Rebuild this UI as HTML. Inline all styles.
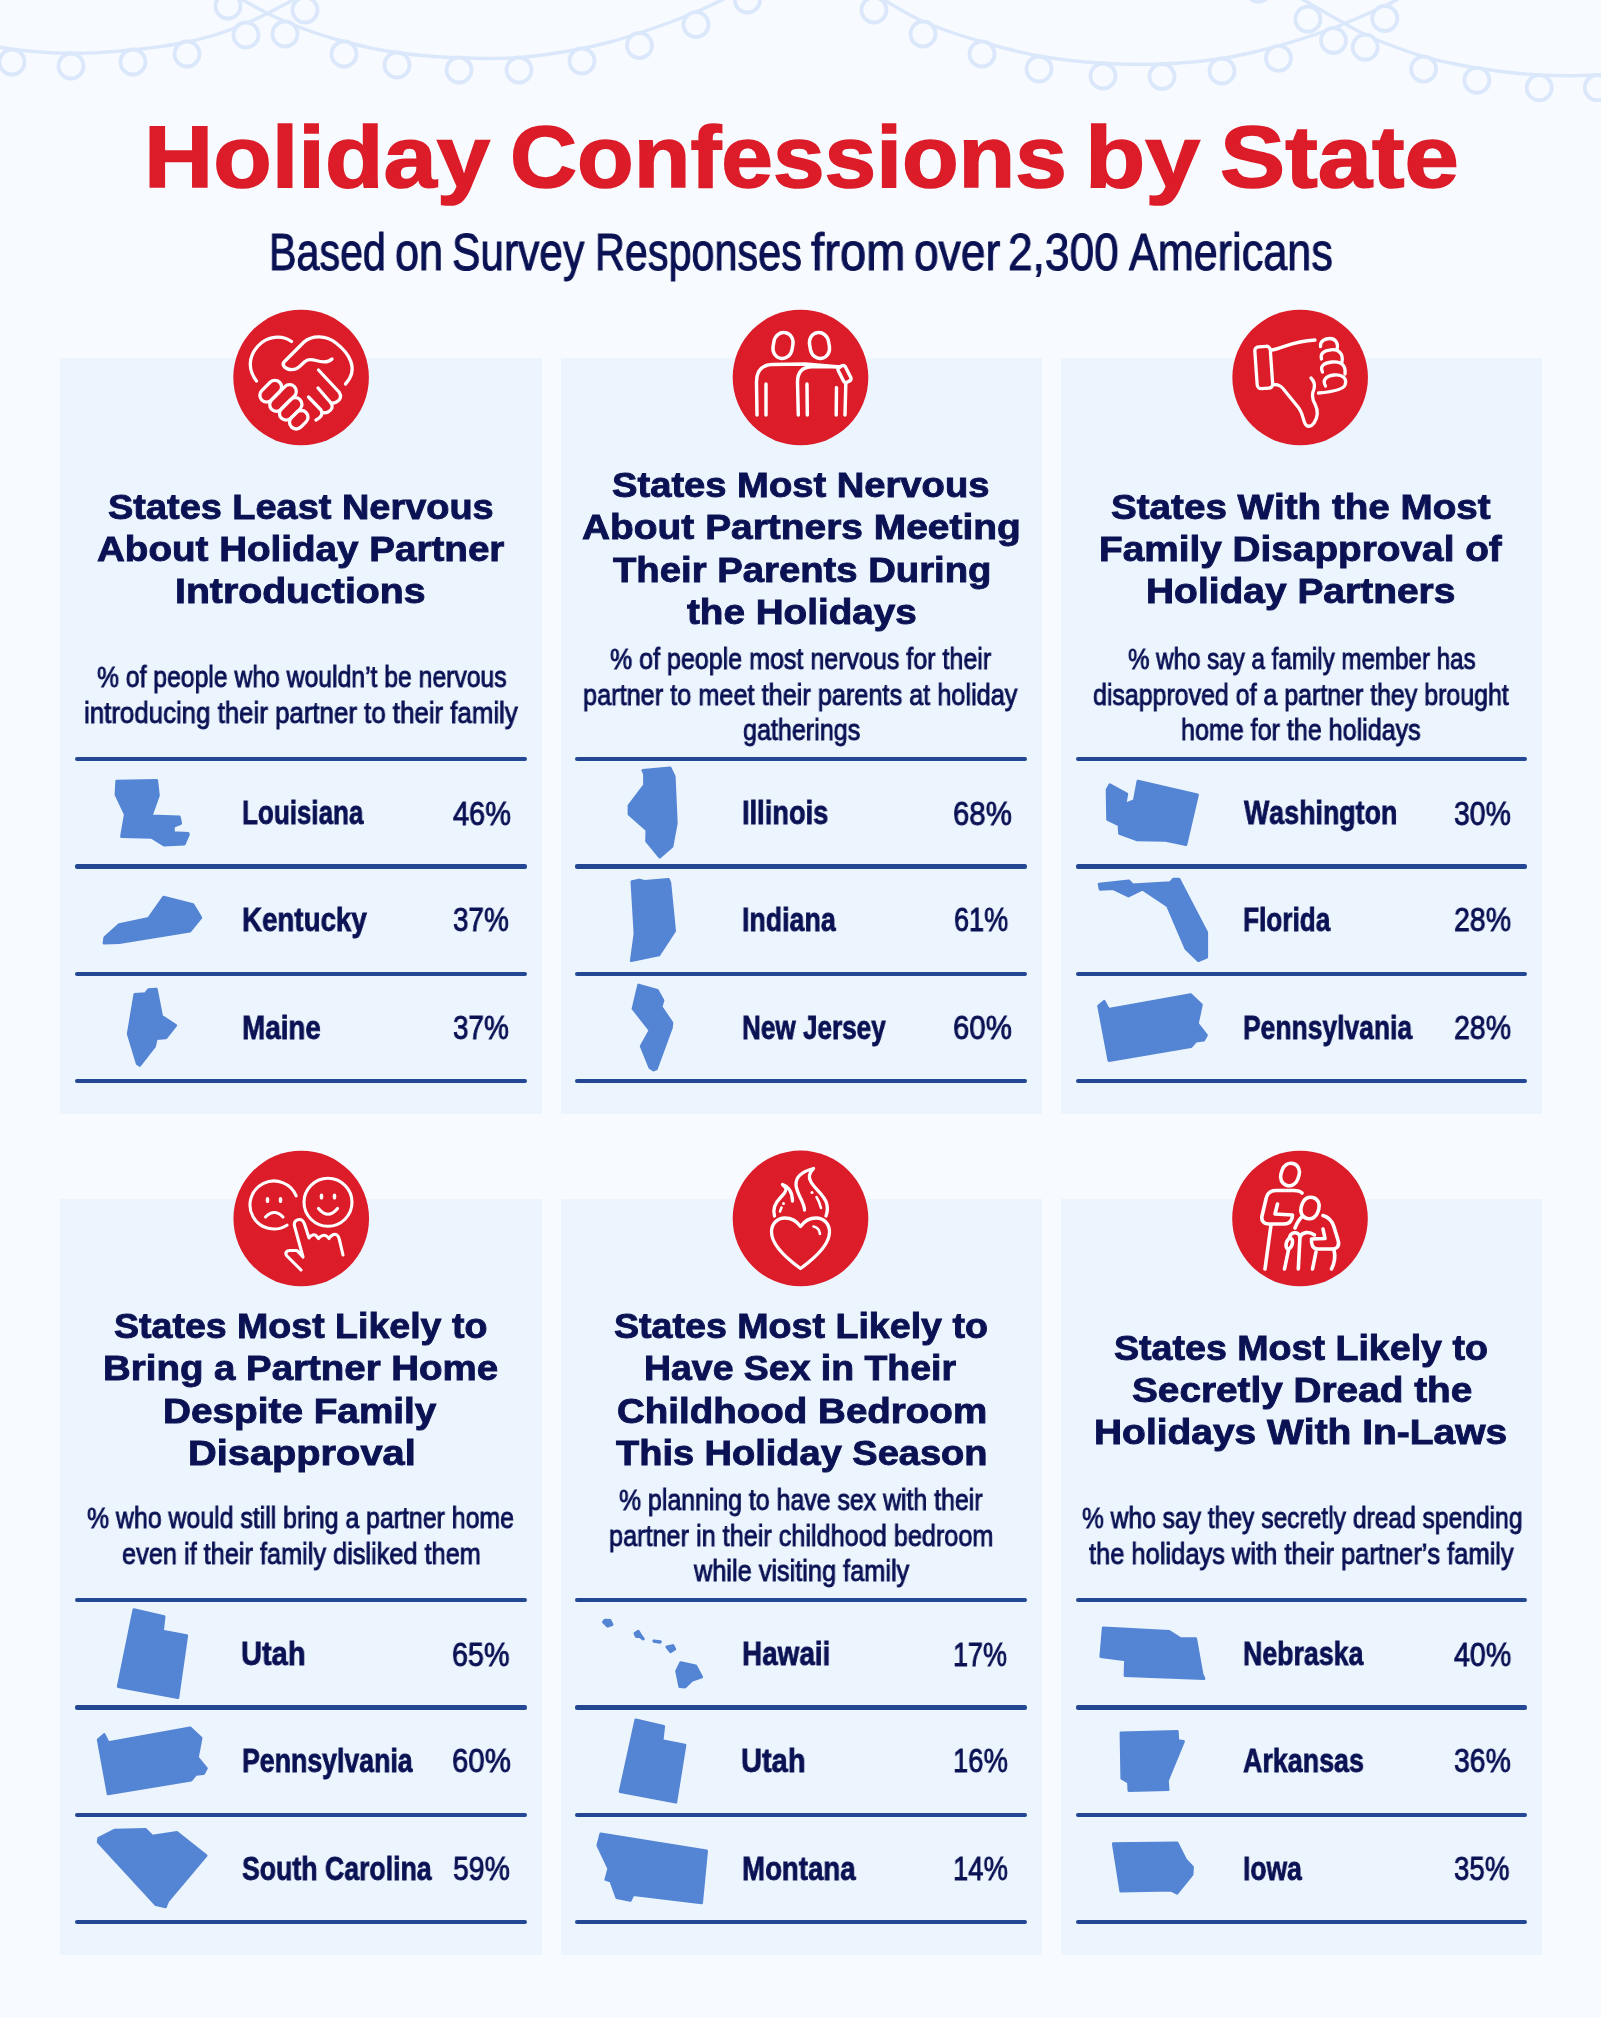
<!DOCTYPE html>
<html lang="en"><head><meta charset="utf-8"><title>Holiday Confessions by State</title>
<style>
html,body{margin:0;padding:0}
body{width:1601px;height:2018px;position:relative;overflow:hidden;background:#f7fafe;font-family:"Liberation Sans",sans-serif;font-kerning:none;-webkit-font-smoothing:antialiased}
.t{position:absolute;white-space:nowrap;transform-origin:0 0;line-height:1;margin:0;padding:0;will-change:transform}
.b{font-weight:700}.r{font-weight:400}
.card{position:absolute;background:#ecf4fe}
.ln{position:absolute;height:4.1px;border-radius:2.05px;background:#234792}
svg{position:absolute;overflow:visible}
.title{-webkit-text-stroke:1.6px #dc1c28}
.h{-webkit-text-stroke:0.9px #0a1254}
.n{-webkit-text-stroke:0.8px #0a1254}
.d,.p{-webkit-text-stroke:0.9px #0a1254}
.sub{-webkit-text-stroke:1.0px #0a1254}
</style></head><body>
<svg width="1601" height="110" viewBox="0 0 1601 110" style="left:0;top:0"><g fill="none" stroke="#dbe8fb" stroke-width="3.4" stroke-linecap="round"><path d="M-10.0,45.5 C-6.3,46.1 3.7,48.1 12.0,49.2 C20.3,50.3 30.2,51.3 40.0,52.0 C49.8,52.7 61.0,53.2 71.0,53.3 C81.0,53.4 89.7,53.2 100.0,52.6 C110.3,52.0 123.0,50.8 133.0,49.8 C143.0,48.8 151.0,47.9 160.0,46.6 C169.0,45.3 177.3,44.1 187.0,42.0 C196.7,39.9 208.2,37.1 218.0,34.0 C227.8,30.9 237.0,27.3 246.0,23.5 C255.0,19.7 264.2,14.9 272.0,11.0 C279.8,7.1 287.5,3.0 293.0,0.0 C298.5,-3.0 303.0,-5.8 305.0,-7.0"/><path d="M232.0,-7.0 C233.8,-5.8 237.8,-3.0 243.0,0.0 C248.2,3.0 256.0,7.4 263.0,11.0 C270.0,14.6 276.5,17.9 285.0,21.5 C293.5,25.1 304.2,29.2 314.0,32.5 C323.8,35.8 334.7,39.0 344.0,41.5 C353.3,44.0 361.2,46.0 370.0,47.8 C378.8,49.6 387.3,51.1 397.0,52.5 C406.7,53.9 417.7,55.1 428.0,56.0 C438.3,56.9 448.7,57.4 459.0,57.8 C469.3,58.2 480.0,58.5 490.0,58.5 C500.0,58.5 509.0,58.4 519.0,57.6 C529.0,56.9 539.5,55.5 550.0,54.0 C560.5,52.5 572.0,50.5 582.0,48.5 C592.0,46.5 600.4,44.6 610.0,42.0 C619.6,39.4 629.8,36.2 639.5,33.0 C649.2,29.8 658.6,26.5 668.0,23.0 C677.4,19.5 687.0,15.8 696.0,12.0 C705.0,8.2 715.5,3.2 722.0,0.0 C728.5,-3.2 732.8,-5.8 735.0,-7.0"/><path d="M868.0,-7.0 C870.7,-5.8 878.3,-2.9 884.0,0.0 C889.7,2.9 895.5,6.9 902.0,10.5 C908.5,14.1 914.7,17.8 923.0,21.5 C931.3,25.2 942.2,29.1 952.0,32.5 C961.8,35.9 972.3,39.0 982.0,41.8 C991.7,44.6 1000.5,47.1 1010.0,49.5 C1019.5,51.9 1029.0,54.2 1039.0,56.0 C1049.0,57.8 1059.3,59.3 1070.0,60.5 C1080.7,61.7 1092.7,62.7 1103.0,63.3 C1113.3,63.9 1122.2,64.2 1132.0,64.3 C1141.8,64.4 1152.0,64.4 1162.0,64.0 C1172.0,63.6 1182.0,62.9 1192.0,62.0 C1202.0,61.1 1212.3,60.0 1222.0,58.5 C1231.7,57.0 1240.6,55.1 1250.0,53.0 C1259.4,50.9 1269.2,48.4 1278.5,45.8 C1287.8,43.2 1296.8,40.5 1306.0,37.5 C1315.2,34.5 1324.5,31.4 1333.5,28.0 C1342.5,24.6 1351.5,20.7 1360.0,17.0 C1368.5,13.3 1378.8,8.8 1384.8,6.0 C1390.8,3.2 1392.1,2.2 1396.0,0.0 C1399.9,-2.2 1406.0,-5.8 1408.0,-7.0"/><path d="M1292.0,-7.0 C1294.0,-5.8 1299.1,-2.8 1303.8,0.0 C1308.5,2.8 1313.8,5.9 1320.0,9.5 C1326.2,13.1 1333.5,17.3 1341.0,21.5 C1348.5,25.7 1356.4,30.5 1365.2,34.7 C1374.0,38.9 1384.3,42.9 1394.0,46.5 C1403.7,50.1 1414.3,53.9 1423.6,56.6 C1432.9,59.4 1441.1,61.1 1450.0,63.0 C1458.9,64.9 1467.2,66.5 1476.9,68.0 C1486.6,69.5 1497.6,71.1 1508.0,72.3 C1518.4,73.5 1529.2,74.4 1539.2,75.0 C1549.2,75.6 1558.3,75.8 1568.0,75.8 C1577.7,75.8 1590.0,75.3 1597.3,75.0 C1604.6,74.7 1609.5,74.2 1612.0,74.0"/></g><g fill="#f7fafe" stroke="#dbe8fb" stroke-width="3.8"><circle cx="12" cy="62" r="12.5"/><circle cx="71" cy="66" r="12.5"/><circle cx="133" cy="62" r="12.5"/><circle cx="187" cy="54" r="12.5"/><circle cx="246" cy="35" r="12.5"/><circle cx="228" cy="6" r="12.5"/><circle cx="305" cy="10" r="12.5"/><circle cx="285" cy="34" r="12.5"/><circle cx="344" cy="54" r="12.5"/><circle cx="397" cy="65" r="12.5"/><circle cx="459" cy="70" r="12.5"/><circle cx="519" cy="70" r="12.5"/><circle cx="582" cy="61" r="12.5"/><circle cx="639.5" cy="45.5" r="12.5"/><circle cx="696" cy="24.6" r="12.5"/><circle cx="747.4" cy="0" r="12.5"/><circle cx="874" cy="10" r="12.5"/><circle cx="923" cy="34" r="12.5"/><circle cx="982" cy="54" r="12.5"/><circle cx="1039" cy="69" r="12.5"/><circle cx="1103" cy="76" r="12.5"/><circle cx="1162" cy="76.5" r="12.5"/><circle cx="1222" cy="71" r="12.5"/><circle cx="1278.5" cy="58.3" r="12.5"/><circle cx="1333.5" cy="40.5" r="12.5"/><circle cx="1384.8" cy="18.5" r="12.5"/><circle cx="1307.9" cy="19.2" r="12.5"/><circle cx="1365.2" cy="47.2" r="12.5"/><circle cx="1423.6" cy="69.1" r="12.5"/><circle cx="1476.9" cy="80.3" r="12.5"/><circle cx="1539.2" cy="87.7" r="12.5"/><circle cx="1597.3" cy="87.7" r="12.5"/><circle cx="1258.3" cy="-10.8" r="12.5"/></g></svg>
<div class="card" style="left:60.4px;top:357.7px;width:481.2px;height:756px"></div>
<div class="card" style="left:560.6px;top:357.7px;width:481.1px;height:756px"></div>
<div class="card" style="left:1061px;top:357.7px;width:480.8px;height:756px"></div>
<div class="card" style="left:60.4px;top:1198.6px;width:481.2px;height:756px"></div>
<div class="card" style="left:560.6px;top:1198.6px;width:481.1px;height:756px"></div>
<div class="card" style="left:1061px;top:1198.6px;width:480.8px;height:756px"></div>
<div class="ln" style="left:75.0px;top:757.05px;width:452.0px"></div>
<div class="ln" style="left:75.0px;top:864.45px;width:452.0px"></div>
<div class="ln" style="left:75.0px;top:971.85px;width:452.0px"></div>
<div class="ln" style="left:75.0px;top:1079.25px;width:452.0px"></div>
<div class="ln" style="left:575.2px;top:757.05px;width:451.9px"></div>
<div class="ln" style="left:575.2px;top:864.45px;width:451.9px"></div>
<div class="ln" style="left:575.2px;top:971.85px;width:451.9px"></div>
<div class="ln" style="left:575.2px;top:1079.25px;width:451.9px"></div>
<div class="ln" style="left:1075.6px;top:757.05px;width:451.6px"></div>
<div class="ln" style="left:1075.6px;top:864.45px;width:451.6px"></div>
<div class="ln" style="left:1075.6px;top:971.85px;width:451.6px"></div>
<div class="ln" style="left:1075.6px;top:1079.25px;width:451.6px"></div>
<div class="ln" style="left:75.0px;top:1598.05px;width:452.0px"></div>
<div class="ln" style="left:75.0px;top:1705.45px;width:452.0px"></div>
<div class="ln" style="left:75.0px;top:1812.85px;width:452.0px"></div>
<div class="ln" style="left:75.0px;top:1920.25px;width:452.0px"></div>
<div class="ln" style="left:575.2px;top:1598.05px;width:451.9px"></div>
<div class="ln" style="left:575.2px;top:1705.45px;width:451.9px"></div>
<div class="ln" style="left:575.2px;top:1812.85px;width:451.9px"></div>
<div class="ln" style="left:575.2px;top:1920.25px;width:451.9px"></div>
<div class="ln" style="left:1075.6px;top:1598.05px;width:451.6px"></div>
<div class="ln" style="left:1075.6px;top:1705.45px;width:451.6px"></div>
<div class="ln" style="left:1075.6px;top:1812.85px;width:451.6px"></div>
<div class="ln" style="left:1075.6px;top:1920.25px;width:451.6px"></div>
<svg width="1601" height="2018" viewBox="0 0 1601 2018" style="left:0;top:0"><g fill="#5485d4" stroke="#5485d4" stroke-width="2.8" stroke-linejoin="round"><polygon points="116.7,781.2 156.7,780.4 158.4,795.5 151.1,816.0 179.3,816.9 180.7,823.4 173.4,826.5 173.4,832.7 188.1,833.5 188.4,834.4 184.2,844.2 164.1,845.0 151.5,837.4 121.5,836.6 125.3,814.5 116.0,794.6"/><polygon points="163.5,897.2 193.0,904.7 200.9,917.7 189.9,931.2 119.2,942.5 104.0,943.2 104.8,937.5 119.2,924.6 148.7,918.3"/><polygon points="134.8,994.4 145.4,993.7 148.6,989.7 156.3,989.1 161.6,1016.1 175.7,1025.4 165.9,1037.8 156.3,1038.6 154.5,1046.4 139.7,1065.4 137.2,1063.6 128.2,1033.9"/><polygon points="642.8,770.4 670.1,767.8 674.2,776.3 676.3,823.3 672.0,846.5 659.7,857.1 646.6,841.2 646.9,830.0 629.0,814.1 629.0,805.7 644.5,785.1 644.5,774.0"/><polygon points="631.9,881.6 639.2,880.0 644.6,881.4 668.4,879.3 669.8,882.5 674.6,930.9 658.9,954.9 631.3,960.7 635.0,933.7"/><polygon points="638.6,985.0 657.3,990.3 663.0,1000.4 661.1,1006.8 671.9,1022.8 671.4,1027.7 656.3,1068.9 653.6,1070.0 649.8,1067.5 641.2,1046.3 650.1,1030.3 633.0,1008.7"/><polygon points="1109.9,784.6 1126.8,794.0 1125.0,804.2 1134.3,800.6 1137.9,781.2 1197.5,794.9 1185.9,844.7 1165.8,840.3 1136.6,839.8 1119.5,833.5 1119.1,824.9 1107.6,819.4 1107.1,789.6"/><polygon points="1099.1,884.1 1128.7,880.8 1132.5,884.8 1170.2,882.7 1173.4,879.2 1179.0,879.2 1206.7,932.4 1206.7,957.3 1198.4,960.8 1185.9,948.7 1167.5,905.8 1142.4,889.2 1128.4,896.0 1112.8,888.6 1100.1,889.3"/><polygon points="1098.6,1006.0 1104.2,1001.3 1108.5,1009.5 1190.6,994.6 1201.4,1004.7 1197.4,1023.5 1206.4,1035.2 1203.6,1040.2 1195.9,1041.0 1191.1,1046.5 1108.9,1060.5"/><polygon points="133.9,1609.6 164.1,1616.5 162.5,1631.2 186.7,1635.7 177.9,1697.5 118.2,1686.6"/><polygon points="98.2,1739.7 104.2,1734.6 108.2,1742.7 190.1,1727.9 201.1,1738.1 197.4,1757.4 206.4,1768.3 203.6,1773.6 195.9,1774.4 191.1,1780.0 108.1,1793.9"/><polygon points="98.7,1838.3 114.5,1830.2 145.3,1829.3 152.4,1836.2 177.1,1832.5 206.1,1855.5 167.6,1901.4 165.5,1906.8 156.0,1904.7 98.2,1842.1"/><polygon points="603.4,1621.9 605.2,1620.1 610.0,1620.4 612.1,1624.6 607.7,1626.2"/><polygon points="634.9,1633.5 638.3,1631.3 641.5,1636.5 643.4,1638.8 643.2,1639.0 639.9,1636.7 636.4,1636.7"/><polygon points="653.8,1640.9 660.4,1641.6 660.1,1642.3 653.9,1641.3"/><polygon points="666.8,1646.9 672.9,1645.5 674.8,1649.1 670.5,1651.7"/><polygon points="680.7,1662.7 695.7,1665.9 701.7,1676.9 691.8,1680.5 685.0,1687.1 679.8,1686.7 676.6,1671.2"/><polygon points="635.8,1719.8 663.7,1726.4 662.1,1740.6 685.0,1745.1 675.8,1802.2 620.1,1791.6"/><polygon points="600.8,1833.9 706.6,1851.0 701.6,1902.9 633.1,1894.7 630.3,1900.5 616.8,1897.7 610.9,1881.2 605.8,1879.5 608.8,1868.7 597.8,1845.4"/><polygon points="1103.2,1628.0 1169.2,1631.5 1179.8,1638.3 1195.7,1638.7 1202.0,1674.1 1204.0,1678.6 1125.0,1675.6 1125.5,1659.9 1100.8,1656.7"/><polygon points="1121.0,1733.0 1177.3,1731.4 1177.8,1740.7 1183.5,1741.5 1167.4,1780.6 1168.1,1789.7 1128.9,1790.5 1128.5,1782.4 1121.8,1778.4"/><polygon points="1113.3,1843.7 1177.1,1842.9 1185.8,1860.1 1192.5,1866.9 1192.0,1874.6 1177.1,1893.2 1170.7,1890.1 1120.8,1891.2"/></g></svg>
<svg width="160" height="160" viewBox="0 0 160 160" style="left:220px;top:300px"><circle cx="81.1" cy="77.5" r="67.8" fill="#dc1c28"/><g fill="none" stroke="#fff" stroke-width="3.3" stroke-linecap="round" stroke-linejoin="round">
<path d="M71.5,41.5 C62,34.5 47,36 38,46 C28,57 28,70 36.5,81"/>
<path d="M112,59 C108,63 101,62 96,60.5 C91,59 88,59 85,61.5 L79,67 C75,70.5 68,70.5 64.5,67 C62.5,65 63,63 64.5,61.5 L84,42 C92,35 106,35 116,43 C129,53 139.5,69 125.5,84"/>
<path d="M98.5,70 L119,92 C122,96 120.5,100 116.5,102 C114.5,103 112.5,103.3 111,103"/>
<path d="M98,88 L111,103 C113.5,106.5 112,110 108,112 C106,113 103.5,112.8 102,112"/>
<path d="M88.5,97 L101,110 C103,113.5 102,117 96,120"/>
<rect x="38.10" y="84.50" width="25.20" height="13.40" rx="6.70" transform="rotate(-45 50.7 91.2)"/><rect x="46.95" y="91.30" width="32.10" height="13.40" rx="6.70" transform="rotate(-45 63 98)"/><rect x="57.55" y="102.20" width="26.30" height="13.40" rx="6.70" transform="rotate(-45 70.7 108.9)"/><rect x="68.45" y="113.05" width="20.60" height="13.40" rx="6.70" transform="rotate(-45 78.75 119.75)"/></g></svg>
<svg width="160" height="160" viewBox="0 0 160 160" style="left:720px;top:300px"><circle cx="80.5" cy="77.5" r="67.8" fill="#dc1c28"/><g fill="none" stroke="#fff" stroke-width="3.45" stroke-linecap="round" stroke-linejoin="round">
<rect x="53.4" y="32.5" width="19.2" height="26" rx="9.3" ry="10.5" transform="rotate(10 63 45.5)"/>
<rect x="89.9" y="32.5" width="19.2" height="26" rx="9.3" ry="10.5" transform="rotate(-10 99.5 45.5)"/>
<path d="M37,115 L36.5,82 C36.5,71 42,65 52,64.5 L85,64 L120,67"/>
<path d="M78.3,115 L77.5,82 C77.5,72 82,67 92,66.7 L118,66.7"/>
<rect x="120.5" y="65.5" width="8" height="17" rx="2.5" transform="rotate(-27 124.5 74)"/>
<path d="M125.8,84 L125,115"/>
<path d="M46,84 L46,115"/><path d="M87,84 L87.3,115"/><path d="M116.5,87.6 L116.2,115"/>
</g></svg>
<svg width="160" height="160" viewBox="0 0 160 160" style="left:1220px;top:300px"><circle cx="80.15" cy="77.5" r="67.8" fill="#dc1c28"/><g fill="none" stroke="#fff" stroke-width="3.3" stroke-linecap="round" stroke-linejoin="round">
<rect x="36" y="46.5" width="15.5" height="42" rx="4" transform="rotate(-4 43.7 67.5)"/>
<path d="M52,50 C64,48 72,41 95,40"/>
<path d="M53.5,84.5 C60,84.5 62,87 65,91 L78,107 C83,113 83,120 85,123.5 C87,127.5 91,127 94,123 C98,117 98,110 95,104 C91,97 92,93 94,89 C95,85 94,81 91,78"/>
<path d="M100.5,46.5 C100,41 105,38.5 110,38.5 C116,38.5 118.5,44 117,49.5"/>
<path d="M101.5,59 C100,53 104,50.5 111,49.8 C119,49 123.5,54 122,62"/>
<path d="M102.5,72 C99.5,66 104,63 112,62 C121,61 126,65 125,74"/>
<path d="M105.5,86 C102,80 106,76 114,75 C122,74 127.5,78 125,85 C123,90 110,92 98.5,93"/>
</g></svg>
<svg width="160" height="160" viewBox="0 0 160 160" style="left:220px;top:1140px"><circle cx="81.25" cy="78.5" r="67.8" fill="#dc1c28"/><g fill="none" stroke="#fff" stroke-width="3.1" stroke-linecap="round" stroke-linejoin="round">
<path d="M76.19,55.85 A24,24 0 1 0 66.97,85.2"/>
<path d="M45.5,77 Q54.3,68 63,77"/>
<circle cx="108" cy="62.3" r="24"/>
<path d="M98.5,68.5 Q108,80 117.5,68.5"/>
<path d="M81,130 L67,116 C64.5,113 66.5,110.5 70,110.5 L77,110.5 L83,117 L74.5,86 C73.5,81 77,79.5 79.5,79.5 C82,79.5 83.5,81 84.5,84 L89,98 C91,94.5 95,94 96.5,96 L98.5,98.5 C101,95 105,94.5 107,96.5 L109,98.5 C111,94.5 115,93.5 117,95 C118.5,96 119,98 119.5,100 L123,115"/>
</g>
<g fill="#fff"><ellipse cx="47.5" cy="60" rx="1.8" ry="3.1"/><ellipse cx="60.5" cy="60" rx="1.8" ry="3.1"/><ellipse cx="101.5" cy="56.5" rx="1.8" ry="3.1"/><ellipse cx="114.5" cy="56.5" rx="1.8" ry="3.1"/></g></svg>
<svg width="160" height="160" viewBox="0 0 160 160" style="left:720px;top:1140px"><circle cx="80.5" cy="78.4" r="67.8" fill="#dc1c28"/><g fill="none" stroke="#fff" stroke-width="3.3" stroke-linecap="round" stroke-linejoin="round">
<path d="M80.5,86.5 C76,80 70,78 65,78 C57,78 51.5,84 51.5,92 C51.5,104 66,118 80.5,128.5 C95,118 109.5,104 109.5,92 C109.5,84 104,78 96,78 C91,78 85,80 80.5,86.5 Z"/>
<path d="M93.5,86.5 C97,87 99.5,90 100,94" stroke-width="2.6"/>
<path d="M54.5,76 C52,68 56,62 61,57 C65,53 67,50 65.5,47.5 L62.5,44.5 C68,46 72.5,52 72.5,61"/>
<path d="M84.5,70 C84.5,62 77,55 76,45 C75.5,36 84,31 93.5,28.5 C89,33 88.5,38 91,42 C95,49 104,55 106.5,63 C108,68 107.5,72 106,76"/>
<path d="M61.5,67.5 L60,71.5" stroke-width="2.6"/><path d="M96.5,57 C98.5,60 100,64 101,68" stroke-width="2.6"/>
</g><g fill="#fff"><circle cx="63.5" cy="63.5" r="1.5"/><circle cx="92" cy="52.5" r="1.5"/></g></svg>
<svg width="160" height="160" viewBox="0 0 160 160" style="left:1220px;top:1140px"><circle cx="80" cy="78.5" r="67.8" fill="#dc1c28"/><g fill="none" stroke="#fff" stroke-width="3.6" stroke-linecap="round" stroke-linejoin="round">
<rect x="61.2" y="23.2" width="17.6" height="22.6" rx="8.3" ry="9.3" transform="rotate(17 70 34.5)"/>
<path d="M82,53 C80,51 77,50.5 74,50.5 L56,50.5 C50,50.5 47,54 46,59 L42,76 C41,81 44,84 49,84 L64,84 C70,84 72.5,80 72.5,75 L55,74 L57.5,64"/>
<path d="M51,85 L45,129"/>
<rect x="81.3" y="57.2" width="17.4" height="21.6" rx="8.2" ry="9.2" transform="rotate(17 90 68)"/>
<path d="M103,75.5 C108,77 112,80 114,87 L118,100 C120,106 117,109 112,109 L98,109 C93,109 91,105 91.5,99 L105,98.5 L103,89"/>
<path d="M83,76 C79,79 77,83 75,88"/>
<path d="M69.5,98 C70.5,91.5 79,91 80,97 L78.3,129"/>
<path d="M80,97 C82,92 89,91 94.5,95"/>
<ellipse cx="69.3" cy="103.5" rx="3" ry="5.5" transform="rotate(15 69.3 103.5)"/>
<path d="M68.5,110 L64.5,129"/>
<path d="M96,112 L92.5,129"/>
<path d="M114,110 C115.5,116 114.5,123 111.5,129"/>
</g></svg>
<div class="t b title" style="left:144.15px;top:114.43px;font-size:87.5px;color:#dc1c28;transform:scaleX(1.0946)">Holiday</div>
<div class="t b title" style="left:509.94px;top:114.43px;font-size:87.5px;color:#dc1c28;transform:scaleX(1.0606)">Confessions</div>
<div class="t b title" style="left:1084.99px;top:114.43px;font-size:87.5px;color:#dc1c28;transform:scaleX(1.1272)">by</div>
<div class="t b title" style="left:1220.46px;top:114.43px;font-size:87.5px;color:#dc1c28;transform:scaleX(1.1165)">State</div>
<div class="t r sub" style="left:268.91px;top:226.53px;font-size:51px;color:#0a1254;transform:scaleX(0.8076)">Based</div>
<div class="t r sub" style="left:395.39px;top:226.53px;font-size:51px;color:#0a1254;transform:scaleX(0.8478)">on</div>
<div class="t r sub" style="left:452.30px;top:226.53px;font-size:51px;color:#0a1254;transform:scaleX(0.8334)">Survey</div>
<div class="t r sub" style="left:594.50px;top:226.53px;font-size:51px;color:#0a1254;transform:scaleX(0.8104)">Responses</div>
<div class="t r sub" style="left:811.35px;top:226.53px;font-size:51px;color:#0a1254;transform:scaleX(0.9256)">from</div>
<div class="t r sub" style="left:913.66px;top:226.53px;font-size:51px;color:#0a1254;transform:scaleX(0.8699)">over</div>
<div class="t r sub" style="left:1008.12px;top:226.53px;font-size:51px;color:#0a1254;transform:scaleX(0.8674)">2,300</div>
<div class="t r sub" style="left:1129.02px;top:226.53px;font-size:51px;color:#0a1254;transform:scaleX(0.8461)">Americans</div>
<div class="t b h" style="left:108.15px;top:489.02px;font-size:35.3px;color:#0a1254;transform:scaleX(1.0743)">States Least Nervous</div>
<div class="t b h" style="left:97.43px;top:531.02px;font-size:35.3px;color:#0a1254;transform:scaleX(1.0933)">About Holiday Partner</div>
<div class="t b h" style="left:175.45px;top:573.22px;font-size:35.3px;color:#0a1254;transform:scaleX(1.1111)">Introductions</div>
<div class="t r d" style="left:96.52px;top:663.35px;font-size:29px;color:#0a1254;transform:scaleX(0.8525)">% of people who wouldn’t be nervous</div>
<div class="t r d" style="left:83.72px;top:699.05px;font-size:29px;color:#0a1254;transform:scaleX(0.8911)">introducing their partner to their family</div>
<div class="t b h" style="left:612.34px;top:467.42px;font-size:35.3px;color:#0a1254;transform:scaleX(1.0810)">States Most Nervous</div>
<div class="t b h" style="left:582.22px;top:509.42px;font-size:35.3px;color:#0a1254;transform:scaleX(1.1020)">About Partners Meeting</div>
<div class="t b h" style="left:613.11px;top:551.62px;font-size:35.3px;color:#0a1254;transform:scaleX(1.0841)">Their Parents During</div>
<div class="t b h" style="left:687.31px;top:593.62px;font-size:35.3px;color:#0a1254;transform:scaleX(1.0948)">the Holidays</div>
<div class="t r d" style="left:610.41px;top:645.25px;font-size:29px;color:#0a1254;transform:scaleX(0.8630)">% of people most nervous for their</div>
<div class="t r d" style="left:582.95px;top:680.85px;font-size:29px;color:#0a1254;transform:scaleX(0.8722)">partner to meet their parents at holiday</div>
<div class="t r d" style="left:742.69px;top:716.45px;font-size:29px;color:#0a1254;transform:scaleX(0.8656)">gatherings</div>
<div class="t b h" style="left:1110.83px;top:489.02px;font-size:35.3px;color:#0a1254;transform:scaleX(1.0936)">States With the Most</div>
<div class="t b h" style="left:1099.47px;top:531.02px;font-size:35.3px;color:#0a1254;transform:scaleX(1.0981)">Family Disapproval of</div>
<div class="t b h" style="left:1146.47px;top:573.22px;font-size:35.3px;color:#0a1254;transform:scaleX(1.1028)">Holiday Partners</div>
<div class="t r d" style="left:1127.73px;top:645.25px;font-size:29px;color:#0a1254;transform:scaleX(0.8327)">% who say a family member has</div>
<div class="t r d" style="left:1093.29px;top:680.85px;font-size:29px;color:#0a1254;transform:scaleX(0.8597)">disapproved of a partner they brought</div>
<div class="t r d" style="left:1181.33px;top:716.45px;font-size:29px;color:#0a1254;transform:scaleX(0.8644)">home for the holidays</div>
<div class="t b h" style="left:114.45px;top:1308.42px;font-size:35.3px;color:#0a1254;transform:scaleX(1.0633)">States Most Likely to</div>
<div class="t b h" style="left:103.39px;top:1350.42px;font-size:35.3px;color:#0a1254;transform:scaleX(1.0890)">Bring a Partner Home</div>
<div class="t b h" style="left:163.38px;top:1392.62px;font-size:35.3px;color:#0a1254;transform:scaleX(1.0975)">Despite Family</div>
<div class="t b h" style="left:187.62px;top:1434.62px;font-size:35.3px;color:#0a1254;transform:scaleX(1.1270)">Disapproval</div>
<div class="t r d" style="left:87.42px;top:1504.35px;font-size:29px;color:#0a1254;transform:scaleX(0.8572)">% who would still bring a partner home</div>
<div class="t r d" style="left:122.08px;top:1540.05px;font-size:29px;color:#0a1254;transform:scaleX(0.8731)">even if their family disliked them</div>
<div class="t b h" style="left:614.45px;top:1308.42px;font-size:35.3px;color:#0a1254;transform:scaleX(1.0651)">States Most Likely to</div>
<div class="t b h" style="left:644.34px;top:1350.42px;font-size:35.3px;color:#0a1254;transform:scaleX(1.0602)">Have Sex in Their</div>
<div class="t b h" style="left:616.55px;top:1392.62px;font-size:35.3px;color:#0a1254;transform:scaleX(1.0912)">Childhood Bedroom</div>
<div class="t b h" style="left:616.10px;top:1434.62px;font-size:35.3px;color:#0a1254;transform:scaleX(1.0760)">This Holiday Season</div>
<div class="t r d" style="left:619.22px;top:1486.25px;font-size:29px;color:#0a1254;transform:scaleX(0.8576)">% planning to have sex with their</div>
<div class="t r d" style="left:608.75px;top:1521.85px;font-size:29px;color:#0a1254;transform:scaleX(0.8702)">partner in their childhood bedroom</div>
<div class="t r d" style="left:693.69px;top:1557.45px;font-size:29px;color:#0a1254;transform:scaleX(0.8729)">while visiting family</div>
<div class="t b h" style="left:1114.45px;top:1330.02px;font-size:35.3px;color:#0a1254;transform:scaleX(1.0651)">States Most Likely to</div>
<div class="t b h" style="left:1132.03px;top:1372.02px;font-size:35.3px;color:#0a1254;transform:scaleX(1.0978)">Secretly Dread the</div>
<div class="t b h" style="left:1094.37px;top:1414.22px;font-size:35.3px;color:#0a1254;transform:scaleX(1.1030)">Holidays With In-Laws</div>
<div class="t r d" style="left:1082.22px;top:1504.35px;font-size:29px;color:#0a1254;transform:scaleX(0.8486)">% who say they secretly dread spending</div>
<div class="t r d" style="left:1088.81px;top:1540.05px;font-size:29px;color:#0a1254;transform:scaleX(0.8783)">the holidays with their partner’s family</div>
<div class="t b n" style="left:242.12px;top:796.34px;font-size:33.5px;color:#0a1254;transform:scaleX(0.7762)">Louisiana</div>
<div class="t r p" style="left:453.22px;top:796.57px;font-size:33px;color:#0a1254;transform:scaleX(0.8773)">46%</div>
<div class="t b n" style="left:241.63px;top:903.24px;font-size:33.5px;color:#0a1254;transform:scaleX(0.8273)">Kentucky</div>
<div class="t r p" style="left:453.07px;top:903.47px;font-size:33px;color:#0a1254;transform:scaleX(0.8444)">37%</div>
<div class="t b n" style="left:241.62px;top:1010.64px;font-size:33.5px;color:#0a1254;transform:scaleX(0.8310)">Maine</div>
<div class="t r p" style="left:453.07px;top:1010.87px;font-size:33px;color:#0a1254;transform:scaleX(0.8444)">37%</div>
<div class="t b n" style="left:741.65px;top:796.34px;font-size:33.5px;color:#0a1254;transform:scaleX(0.8134)">Illinois</div>
<div class="t r p" style="left:953.23px;top:796.57px;font-size:33px;color:#0a1254;transform:scaleX(0.8909)">68%</div>
<div class="t b n" style="left:741.68px;top:903.24px;font-size:33.5px;color:#0a1254;transform:scaleX(0.7986)">Indiana</div>
<div class="t r p" style="left:953.72px;top:903.47px;font-size:33px;color:#0a1254;transform:scaleX(0.8207)">61%</div>
<div class="t b n" style="left:741.71px;top:1010.64px;font-size:33.5px;color:#0a1254;transform:scaleX(0.7794)">New Jersey</div>
<div class="t r p" style="left:953.23px;top:1010.87px;font-size:33px;color:#0a1254;transform:scaleX(0.8909)">60%</div>
<div class="t b n" style="left:1244.42px;top:796.34px;font-size:33.5px;color:#0a1254;transform:scaleX(0.7999)">Washington</div>
<div class="t r p" style="left:1454.35px;top:796.57px;font-size:33px;color:#0a1254;transform:scaleX(0.8599)">30%</div>
<div class="t b n" style="left:1243.21px;top:903.24px;font-size:33.5px;color:#0a1254;transform:scaleX(0.7824)">Florida</div>
<div class="t r p" style="left:1454.06px;top:903.47px;font-size:33px;color:#0a1254;transform:scaleX(0.8643)">28%</div>
<div class="t b n" style="left:1243.20px;top:1010.64px;font-size:33.5px;color:#0a1254;transform:scaleX(0.7897)">Pennsylvania</div>
<div class="t r p" style="left:1454.06px;top:1010.87px;font-size:33px;color:#0a1254;transform:scaleX(0.8643)">28%</div>
<div class="t b n" style="left:241.30px;top:1637.34px;font-size:33.5px;color:#0a1254;transform:scaleX(0.8672)">Utah</div>
<div class="t r p" style="left:452.36px;top:1637.57px;font-size:33px;color:#0a1254;transform:scaleX(0.8706)">65%</div>
<div class="t b n" style="left:241.68px;top:1744.24px;font-size:33.5px;color:#0a1254;transform:scaleX(0.7968)">Pennsylvania</div>
<div class="t r p" style="left:452.33px;top:1744.47px;font-size:33px;color:#0a1254;transform:scaleX(0.8909)">60%</div>
<div class="t b n" style="left:242.22px;top:1851.64px;font-size:33.5px;color:#0a1254;transform:scaleX(0.7960)">South Carolina</div>
<div class="t r p" style="left:453.05px;top:1851.87px;font-size:33px;color:#0a1254;transform:scaleX(0.8599)">59%</div>
<div class="t b n" style="left:741.62px;top:1637.34px;font-size:33.5px;color:#0a1254;transform:scaleX(0.8324)">Hawaii</div>
<div class="t r p" style="left:952.65px;top:1637.57px;font-size:33px;color:#0a1254;transform:scaleX(0.8171)">17%</div>
<div class="t b n" style="left:741.30px;top:1744.24px;font-size:33.5px;color:#0a1254;transform:scaleX(0.8672)">Utah</div>
<div class="t r p" style="left:952.62px;top:1744.47px;font-size:33px;color:#0a1254;transform:scaleX(0.8314)">16%</div>
<div class="t b n" style="left:741.63px;top:1851.64px;font-size:33.5px;color:#0a1254;transform:scaleX(0.8255)">Montana</div>
<div class="t r p" style="left:952.62px;top:1851.87px;font-size:33px;color:#0a1254;transform:scaleX(0.8314)">14%</div>
<div class="t b n" style="left:1243.18px;top:1637.34px;font-size:33.5px;color:#0a1254;transform:scaleX(0.7984)">Nebraska</div>
<div class="t r p" style="left:1453.92px;top:1637.57px;font-size:33px;color:#0a1254;transform:scaleX(0.8666)">40%</div>
<div class="t b n" style="left:1242.75px;top:1744.24px;font-size:33.5px;color:#0a1254;transform:scaleX(0.8016)">Arkansas</div>
<div class="t r p" style="left:1454.35px;top:1744.47px;font-size:33px;color:#0a1254;transform:scaleX(0.8599)">36%</div>
<div class="t b n" style="left:1243.19px;top:1851.64px;font-size:33.5px;color:#0a1254;transform:scaleX(0.7905)">Iowa</div>
<div class="t r p" style="left:1454.37px;top:1851.87px;font-size:33px;color:#0a1254;transform:scaleX(0.8397)">35%</div>
</body></html>
